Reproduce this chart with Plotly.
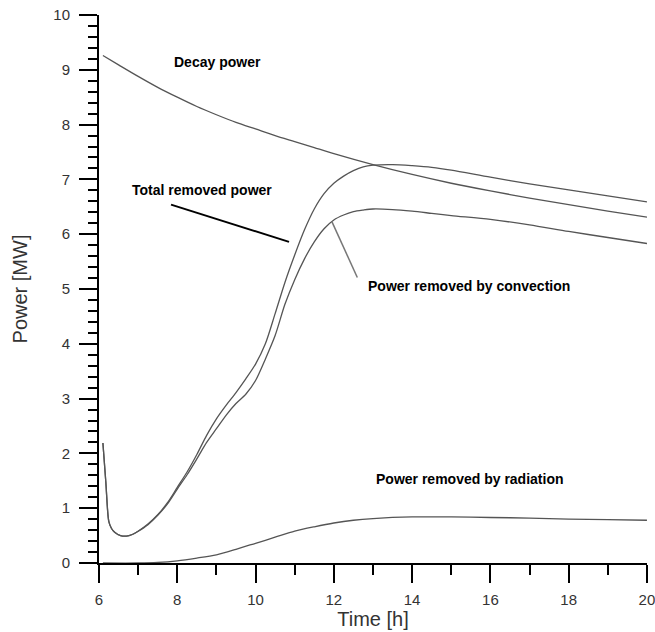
import plotly.graph_objects as go

# ---- data ----
time_decay = [6.1, 6.5, 7.0, 7.5, 8.0, 8.5, 9.0, 9.5, 10.0, 10.5, 11.0, 11.5, 12.0, 13.0, 14.0, 15.0, 16.0, 17.0, 18.0, 19.0, 20.0]
decay_power = [9.26, 9.09, 8.88, 8.68, 8.50, 8.33, 8.18, 8.04, 7.92, 7.80, 7.69, 7.58, 7.47, 7.27, 7.09, 6.93, 6.79, 6.66, 6.54, 6.42, 6.31]

time_removed = [6.1, 6.175, 6.25, 6.32, 6.4, 6.55, 6.7, 6.85, 7.0, 7.25, 7.5, 7.75, 8.0, 8.25, 8.5, 8.75, 9.0,
                9.25, 9.5, 9.75, 10.0, 10.25, 10.5, 10.75, 11.0, 11.25, 11.5, 11.75, 12.0,
                12.25, 12.5, 12.75, 13.0, 13.5, 14.0, 14.5, 15.0, 16.0, 17.0, 18.0, 19.0, 20.0]
total_removed = [2.19, 1.47, 0.76, 0.63, 0.56, 0.50, 0.49, 0.52, 0.58, 0.71, 0.88, 1.10, 1.38, 1.66, 1.98, 2.33, 2.63,
                 2.88, 3.11, 3.36, 3.63, 4.00, 4.55, 5.12, 5.62, 6.08, 6.46, 6.74, 6.93,
                 7.06, 7.16, 7.23, 7.26, 7.27, 7.25, 7.22, 7.17, 7.04, 6.92, 6.81, 6.70, 6.59]
convection = [2.19, 1.47, 0.76, 0.63, 0.56, 0.50, 0.49, 0.52, 0.58, 0.70, 0.87, 1.08, 1.35, 1.61, 1.90, 2.20, 2.45,
              2.70, 2.91, 3.08, 3.33, 3.72, 4.15, 4.72, 5.17, 5.55, 5.86, 6.10, 6.26,
              6.35, 6.41, 6.44, 6.46, 6.45, 6.42, 6.38, 6.34, 6.27, 6.17, 6.05, 5.94, 5.83]

time_rad = [6.1, 7.0, 7.5, 8.0, 8.5, 9.0, 9.5, 10.0, 10.5, 11.0, 11.5, 12.0, 12.5, 13.0, 14.0, 15.0, 16.0, 17.0, 18.0, 19.0, 20.0]
radiation = [0.0, 0.0, 0.01, 0.04, 0.09, 0.15, 0.25, 0.36, 0.47, 0.58, 0.66, 0.73, 0.78, 0.81, 0.84, 0.84, 0.83, 0.82, 0.80, 0.79, 0.78]

x_ticks = [6, 8, 10, 12, 14, 16, 18, 20]
y_ticks = [0, 1, 2, 3, 4, 5, 6, 7, 8, 9, 10]

curve_color = "#555555"
lw = 1.3

fig = go.Figure()
for xs, ys, nm in [(time_decay, decay_power, "Decay power"),
                   (time_removed, total_removed, "Total removed power"),
                   (time_removed, convection, "Power removed by convection"),
                   (time_rad, radiation, "Power removed by radiation")]:
    fig.add_trace(go.Scatter(x=xs, y=ys, mode="lines", name=nm,
                             line=dict(color=curve_color, width=lw, shape="spline", smoothing=0.8)))

ann_font = dict(family="Liberation Sans, Arial, sans-serif", size=14, color="black")
annotations = [
    dict(x=9.04, y=9.15, text="<b>Decay power</b>"),
    dict(x=8.63, y=6.81, text="<b>Total removed power</b>"),
    dict(x=15.46, y=5.06, text="<b>Power removed by convection</b>"),
    dict(x=15.49, y=1.53, text="<b>Power removed by radiation</b>"),
]
for a in annotations:
    a.update(xref="x", yref="y", showarrow=False, font=ann_font, xanchor="center", yanchor="middle")

shapes = [
    dict(type="line", xref="x", yref="y", x0=7.84, y0=6.54, x1=10.855, y1=5.86, line=dict(color="black", width=2)),
    dict(type="line", xref="x", yref="y", x0=11.95, y0=6.23, x1=12.6, y1=5.21, line=dict(color="#777777", width=1.5)),
]

tick_font = dict(family="Liberation Sans, Arial, sans-serif", size=15, color="#333333")
title_font = dict(family="Liberation Sans, Arial, sans-serif", size=20, color="#333333")

fig.update_layout(
    width=655, height=632,
    margin=dict(l=99, r=8, t=15, b=69, autoexpand=False),
    paper_bgcolor="white", plot_bgcolor="white",
    showlegend=False,
    annotations=annotations,
    shapes=shapes,
    xaxis=dict(
        range=[6, 20.001], tickvals=x_ticks, ticktext=[str(v) for v in x_ticks],
        showgrid=False, zeroline=False, showline=True, linecolor="black", linewidth=2,
        ticks="outside", ticklen=18, tickwidth=2, tickcolor="black",
        minor=dict(dtick=1, ticks="outside", ticklen=10, tickwidth=2, tickcolor="black", showgrid=False),
        tickfont=tick_font, ticklabelstandoff=4, ticklabeloverflow="allow", automargin=False,
        title=dict(text="Time [h]", font=title_font, standoff=2),
    ),
    yaxis=dict(
        range=[0, 10], tickvals=y_ticks, ticktext=[str(v) for v in y_ticks],
        showgrid=False, zeroline=False, showline=True, linecolor="black", linewidth=2,
        ticks="outside", ticklen=18, tickwidth=2, tickcolor="black",
        minor=dict(dtick=0.2, ticks="outside", ticklen=9, tickwidth=2, tickcolor="black", showgrid=False),
        tickfont=tick_font, ticklabelstandoff=6, automargin=False,
        title=dict(text="Power [MW]", font=title_font, standoff=20),
    ),
)

fig.write_html("out.html")
